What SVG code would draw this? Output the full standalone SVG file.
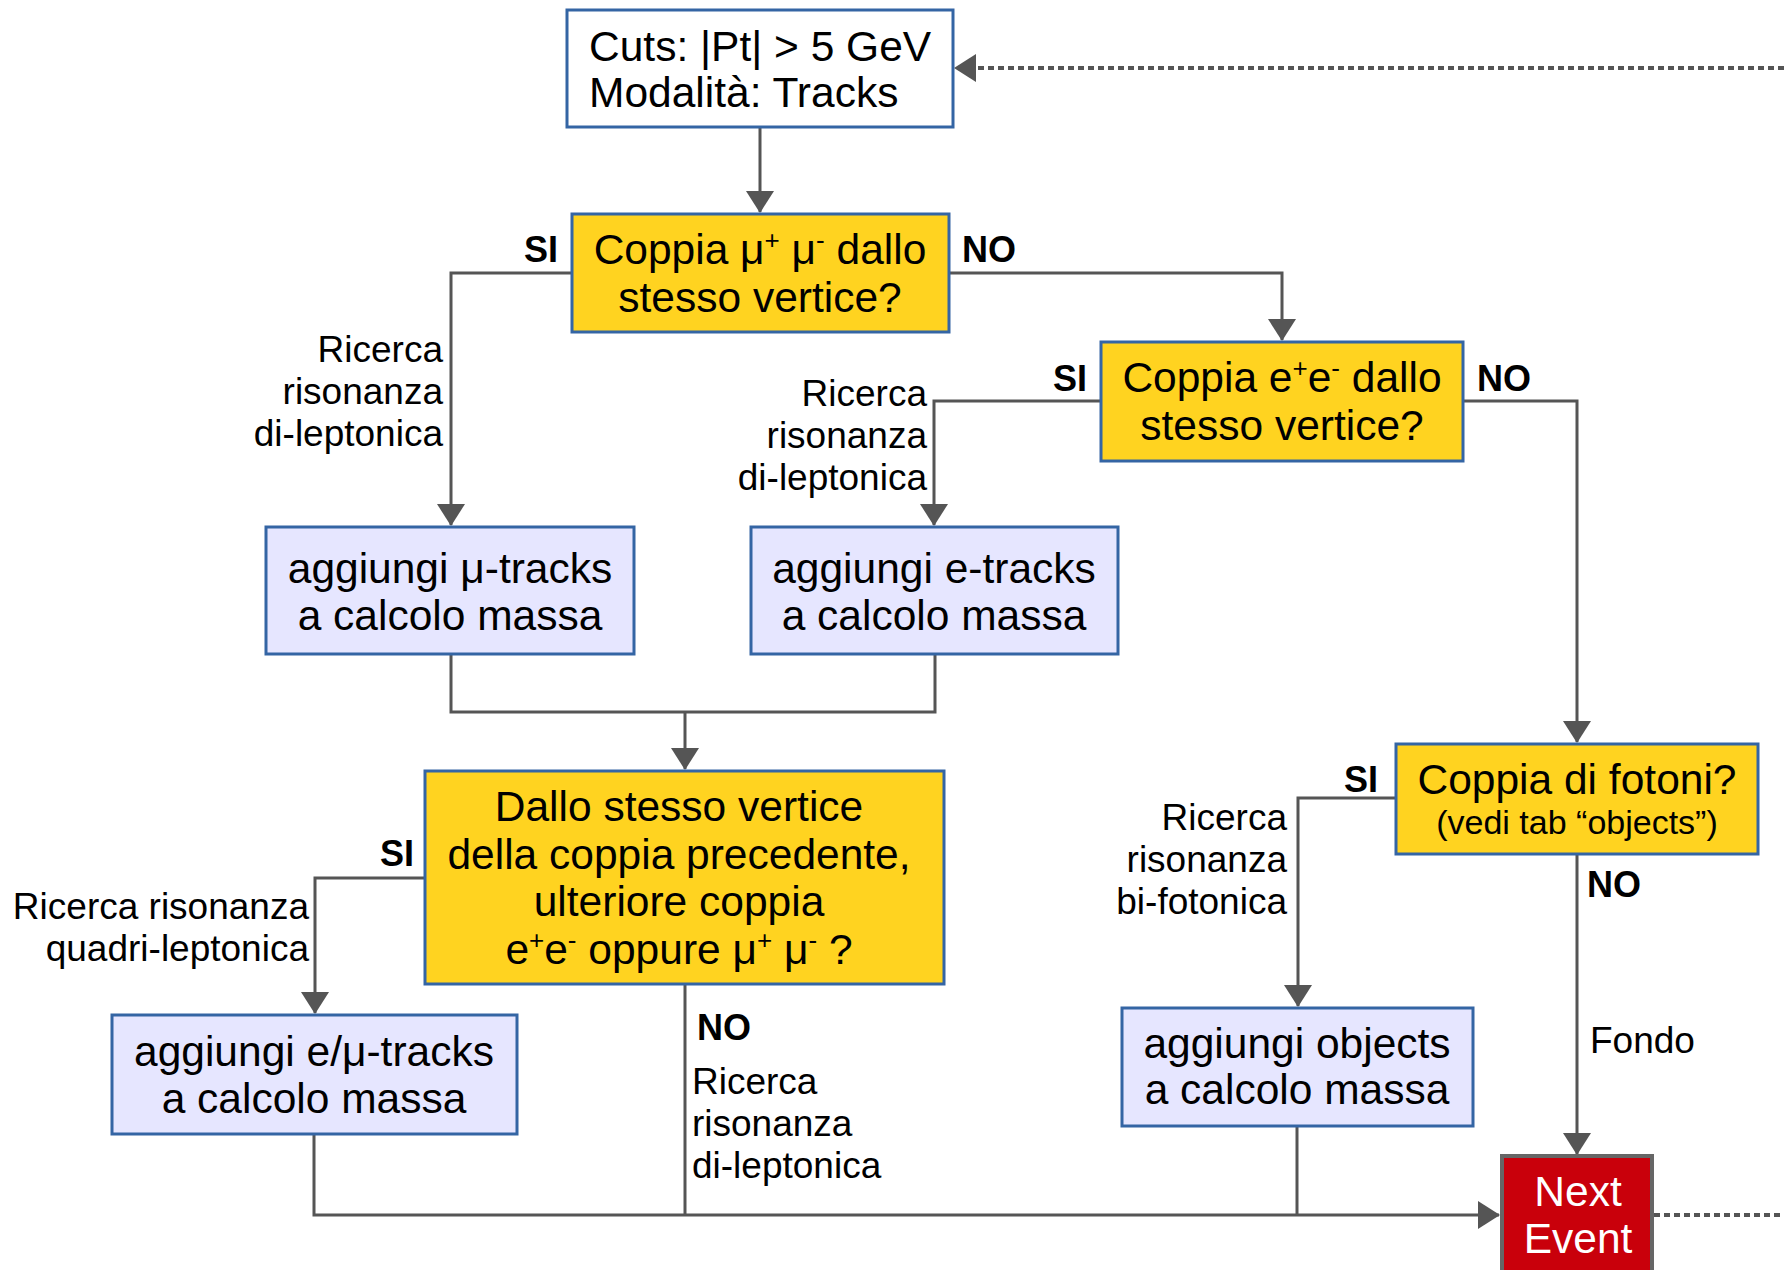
<svg xmlns="http://www.w3.org/2000/svg" width="1784" height="1270" viewBox="0 0 1784 1270">
<defs>
<style>
text{font-family:"Liberation Sans",Arial,sans-serif;fill:#000}
.box{stroke:#3465a4;stroke-width:3}
.q{fill:#ffd320}
.a{fill:#e6e6ff}
.w{fill:#ffffff}
.t{font-size:42.5px;text-anchor:middle}
.s{font-size:34px;text-anchor:middle}
.lab{font-size:37px}
.b{font-size:36px;font-weight:bold}
.r{text-anchor:end}
.c{fill:none;stroke:#555555;stroke-width:3}
.d{stroke-dasharray:6 4;stroke-width:4}
</style>
<marker id="ah" viewBox="0 0 22 28" refX="21" refY="14" markerWidth="22" markerHeight="28" markerUnits="userSpaceOnUse" orient="auto">
<path d="M0,0 L22,14 L0,28 Z" fill="#555555" stroke="none"/>
</marker>
</defs>
<rect width="1784" height="1270" fill="#ffffff"/>

<g id="connectors">
<path class="c" d="M760,127 V212" marker-end="url(#ah)"/>
<path class="c" d="M572,273 H451 V525" marker-end="url(#ah)"/>
<path class="c" d="M949,273 H1282 V340" marker-end="url(#ah)"/>
<path class="c" d="M1101,401 H934 V525" marker-end="url(#ah)"/>
<path class="c" d="M1463,401 H1577 V742" marker-end="url(#ah)"/>
<path class="c" d="M451,654 V712 H935 V654"/>
<path class="c" d="M685,712 V769" marker-end="url(#ah)"/>
<path class="c" d="M425,878 H315 V1013" marker-end="url(#ah)"/>
<path class="c" d="M1396,798 H1298 V1006" marker-end="url(#ah)"/>
<path class="c" d="M1577,854 V1154" marker-end="url(#ah)"/>
<path class="c" d="M314,1134 V1215 H1499" marker-end="url(#ah)"/>
<path class="c" d="M685,984 V1215"/>
<path class="c" d="M1297,1126 V1215"/>
<path class="c d" d="M1784,68 H955" marker-end="url(#ah)"/>
<path class="c d" d="M1654,1215 H1784"/>
</g>

<g id="cuts">
<rect class="box w" x="567" y="10" width="386" height="117"/>
<text x="589" y="61" style="font-size:42.5px">Cuts: |Pt| &gt; 5 GeV</text>
<text x="589" y="107" style="font-size:42.5px">Modalità: Tracks</text>
</g>

<g id="q-mumu">
<rect class="box q" x="572" y="214" width="377" height="118"/>
<text class="t" x="760" y="264">Coppia μ<tspan dy="-15" font-size="26">+</tspan><tspan dy="15"> μ</tspan><tspan dy="-15" font-size="26">-</tspan><tspan dy="15"> dallo</tspan></text>
<text class="t" x="760" y="312">stesso vertice?</text>
</g>

<g id="q-ee">
<rect class="box q" x="1101" y="342" width="362" height="119"/>
<text class="t" x="1282" y="392">Coppia e<tspan dy="-15" font-size="26">+</tspan><tspan dy="15">e</tspan><tspan dy="-15" font-size="26">-</tspan><tspan dy="15"> dallo</tspan></text>
<text class="t" x="1282" y="440">stesso vertice?</text>
</g>

<g id="add-mu">
<rect class="box a" x="266" y="527" width="368" height="127"/>
<text class="t" x="450" y="583">aggiungi μ-tracks</text>
<text class="t" x="450" y="630">a calcolo massa</text>
</g>

<g id="add-e">
<rect class="box a" x="751" y="527" width="367" height="127"/>
<text class="t" x="934" y="583">aggiungi e-tracks</text>
<text class="t" x="934" y="630">a calcolo massa</text>
</g>

<g id="q-four">
<rect class="box q" x="425" y="771" width="519" height="213"/>
<text class="t" x="679" y="821">Dallo stesso vertice</text>
<text class="t" x="679" y="869">della coppia precedente,</text>
<text class="t" x="679" y="916">ulteriore coppia</text>
<text class="t" x="679" y="964">e<tspan dy="-15" font-size="26">+</tspan><tspan dy="15">e</tspan><tspan dy="-15" font-size="26">-</tspan><tspan dy="15"> oppure μ</tspan><tspan dy="-15" font-size="26">+</tspan><tspan dy="15"> μ</tspan><tspan dy="-15" font-size="26">-</tspan><tspan dy="15"> ?</tspan></text>
</g>

<g id="add-emu">
<rect class="box a" x="112" y="1015" width="405" height="119"/>
<text class="t" x="314" y="1066">aggiungi e/μ-tracks</text>
<text class="t" x="314" y="1113">a calcolo massa</text>
</g>

<g id="q-photon">
<rect class="box q" x="1396" y="744" width="362" height="110"/>
<text class="t" x="1577" y="794">Coppia di fotoni?</text>
<text class="s" x="1577" y="834">(vedi tab “objects”)</text>
</g>

<g id="add-obj">
<rect class="box a" x="1122" y="1008" width="351" height="118"/>
<text class="t" x="1297" y="1058">aggiungi objects</text>
<text class="t" x="1297" y="1104">a calcolo massa</text>
</g>

<g id="next-event">
<rect x="1502" y="1156" width="150" height="130" fill="#c9000b" stroke="#666666" stroke-width="4"/>
<text class="t" x="1578" y="1206" style="fill:#ffffff">Next</text>
<text class="t" x="1578" y="1253" style="fill:#ffffff">Event</text>
</g>

<g id="labels">
<text class="b" x="524" y="262">SI</text>
<text class="b" x="962" y="262">NO</text>
<text class="b" x="1053" y="391">SI</text>
<text class="b" x="1477" y="391">NO</text>
<text class="b" x="380" y="866">SI</text>
<text class="b" x="1344" y="792">SI</text>
<text class="b" x="1587" y="897">NO</text>
<text class="b" x="697" y="1040">NO</text>
<text class="lab r" x="443" y="362">Ricerca</text>
<text class="lab r" x="443" y="404">risonanza</text>
<text class="lab r" x="443" y="446">di-leptonica</text>
<text class="lab r" x="927" y="406">Ricerca</text>
<text class="lab r" x="927" y="448">risonanza</text>
<text class="lab r" x="927" y="490">di-leptonica</text>
<text class="lab r" x="309" y="919">Ricerca risonanza</text>
<text class="lab r" x="309" y="961">quadri-leptonica</text>
<text class="lab r" x="1287" y="830">Ricerca</text>
<text class="lab r" x="1287" y="872">risonanza</text>
<text class="lab r" x="1287" y="914">bi-fotonica</text>
<text class="lab" x="1590" y="1053">Fondo</text>
<text class="lab" x="692" y="1094">Ricerca</text>
<text class="lab" x="692" y="1136">risonanza</text>
<text class="lab" x="692" y="1178">di-leptonica</text>
</g>
</svg>
